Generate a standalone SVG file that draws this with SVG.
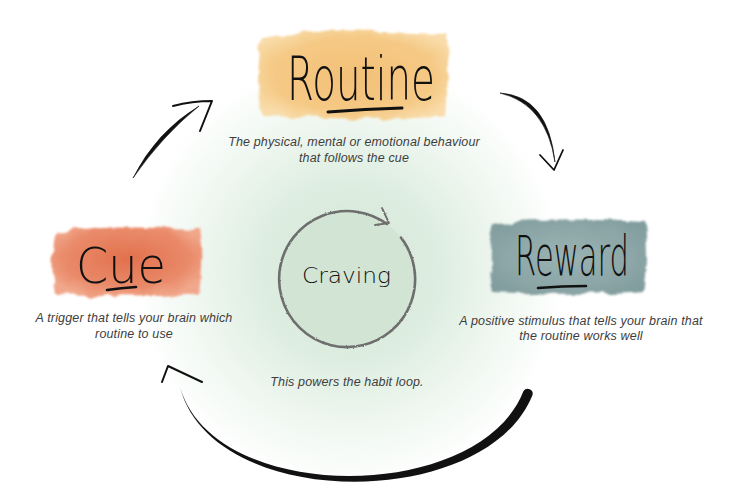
<svg xmlns="http://www.w3.org/2000/svg" width="750" height="500" viewBox="0 0 750 500">
<defs>
  <radialGradient id="glow" cx="350" cy="272" r="215" gradientUnits="userSpaceOnUse">
    <stop offset="0" stop-color="#d3e7d6"/>
    <stop offset="0.4" stop-color="#ddede0"/>
    <stop offset="0.75" stop-color="#f1f8f2"/>
    <stop offset="1" stop-color="#ffffff"/>
  </radialGradient>
  <radialGradient id="gRoutine" cx="0.5" cy="0.5" r="0.6">
    <stop offset="0" stop-color="#f3c077"/>
    <stop offset="0.7" stop-color="#f5c985"/>
    <stop offset="1" stop-color="#f9dcaa"/>
  </radialGradient>
  <radialGradient id="gCue" cx="0.5" cy="0.45" r="0.6">
    <stop offset="0" stop-color="#e2714e"/>
    <stop offset="0.7" stop-color="#e98a69"/>
    <stop offset="1" stop-color="#f1a78b"/>
  </radialGradient>
  <radialGradient id="gReward" cx="0.5" cy="0.5" r="0.6">
    <stop offset="0" stop-color="#9ab2b2"/>
    <stop offset="0.7" stop-color="#8ca6a7"/>
    <stop offset="1" stop-color="#829d9e"/>
  </radialGradient>
  <filter id="rough" x="-10%" y="-20%" width="120%" height="140%">
    <feTurbulence type="fractalNoise" baseFrequency="0.05" numOctaves="3" seed="4" result="n"/>
    <feDisplacementMap in="SourceGraphic" in2="n" scale="9" xChannelSelector="R" yChannelSelector="G" result="d"/>
    <feGaussianBlur in="d" stdDeviation="1.3"/>
  </filter>
  <filter id="sketch" x="-10%" y="-10%" width="120%" height="120%">
    <feTurbulence type="fractalNoise" baseFrequency="0.6" numOctaves="2" seed="2" result="n"/>
    <feDisplacementMap in="SourceGraphic" in2="n" scale="2" xChannelSelector="R" yChannelSelector="G"/>
  </filter>
  <style>
    .hand { font-family: "DejaVu Sans", "Liberation Sans", sans-serif; font-weight: 200; fill: #111; }
    .desc { font-family: "Liberation Sans", Arial, sans-serif; font-style: italic; font-size: 12.5px; letter-spacing: 0.15px; fill: #3d3d3d; text-anchor: middle; }
    .ink { fill: none; stroke: #111; stroke-linecap: round; stroke-linejoin: round; }
    .fillink { fill: #111; stroke: #111; stroke-width: 0.6; stroke-linejoin: round; }
  </style>
</defs>

<rect width="750" height="500" fill="#ffffff"/>
<circle cx="350" cy="272" r="215" fill="url(#glow)"/>

<g id="routine">
  <path d="M262,38 C300,28 380,32 446,34 C452,60 448,95 446,116 C400,121 320,118 262,116 C256,95 258,62 262,38 Z" fill="url(#gRoutine)" filter="url(#rough)"/>
  <text class="hand" x="287" y="100" font-size="60" textLength="148" lengthAdjust="spacingAndGlyphs">Routine</text>
  <path d="M328,112 Q365,109 402,108" class="ink" stroke-width="3"/>
  <text class="desc" x="354" y="146">The physical, mental or emotional behaviour</text>
  <text class="desc" x="354" y="162">that follows the cue</text>
</g>

<g id="cue">
  <path d="M56,232 C100,225 160,228 199,229 C203,250 201,275 199,294 C150,298 100,296 55,295 C51,275 52,250 56,232 Z" fill="url(#gCue)" filter="url(#rough)"/>
  <text class="hand" x="76" y="283" font-size="50" textLength="90" lengthAdjust="spacingAndGlyphs">Cue</text>
  <path d="M107,290 Q121,288 136,287" class="ink" stroke-width="2.6"/>
  <text class="desc" x="134" y="322">A trigger that tells your brain which</text>
  <text class="desc" x="134" y="338">routine to use</text>
</g>

<g id="reward">
  <path d="M494,224 C540,217 600,220 643,222 C648,245 646,272 643,291 C600,295 540,294 493,292 C488,270 489,245 494,224 Z" fill="url(#gReward)" filter="url(#rough)"/>
  <text class="hand" x="515" y="275" font-size="56" textLength="114" lengthAdjust="spacingAndGlyphs">Reward</text>
  <path d="M538,288 Q562,286 586,286" class="ink" stroke-width="2.6"/>
  <text class="desc" x="581" y="325">A positive stimulus that tells your brain that</text>
  <text class="desc" x="581" y="340">the routine works well</text>
</g>

<g id="craving">
  <circle cx="347" cy="279" r="68" fill="#d2e5d5"/>
  <g filter="url(#sketch)">
    <path d="M401,237.6 A68,68 0 1 1 387,224" fill="none" stroke="#6e6e6e" stroke-width="2.6" stroke-linecap="round"/>
    <path d="M382,208 L389,223 L375,225" fill="none" stroke="#6e6e6e" stroke-width="1.8" stroke-linecap="round" stroke-linejoin="round"/>
  </g>
  <text class="hand" x="302" y="283" font-size="22" textLength="89" lengthAdjust="spacingAndGlyphs">Craving</text>
  <text class="desc" x="347" y="386">This powers the habit loop.</text>
</g>

<g id="connectors">
  <!-- Cue to Routine -->
  <path d="M133,178 Q156,132 199,106 Q162,136 133,178 Z" class="fillink" stroke-width="1.2"/>
  <path d="M173,106 Q192,101 212,101 L200,131" class="ink" stroke-width="2"/>
  <!-- Routine to Reward -->
  <path d="M500,93 Q548,96 555,162 Q546,104 500,93 Z" class="fillink" stroke-width="1.2"/>
  <path d="M540,155 L554,170 L563,150" class="ink" stroke-width="1.8"/>
  <!-- Reward back to Cue -->
  <path d="M180,387 C214,506 480,504 523.5,391 A5,5 0 0 1 532.5,395 C486,512 212,512 180,387 Z" fill="#111"/>
  <path d="M162,382 L168,366 L202,382" class="ink" stroke-width="2"/>
</g>
</svg>
